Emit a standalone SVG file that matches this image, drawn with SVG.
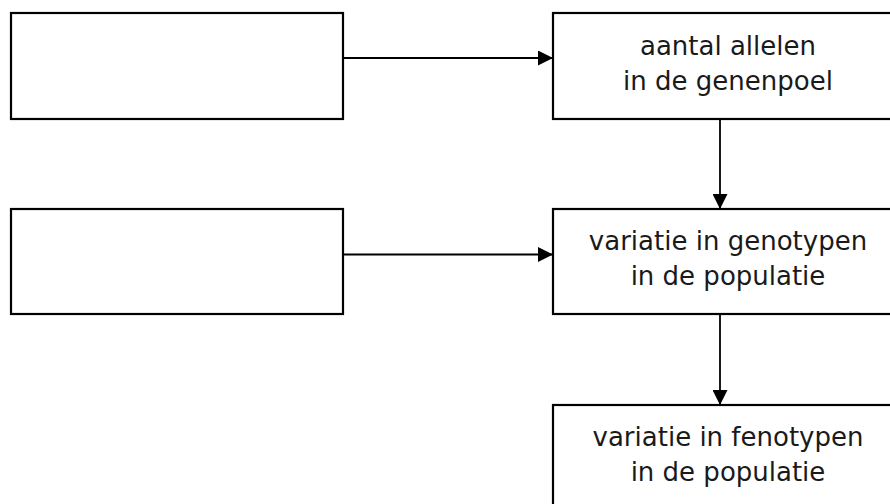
<svg xmlns="http://www.w3.org/2000/svg" width="890" height="504" viewBox="0 0 890 504">
  <style>
    .box { fill: #ffffff; stroke: #000000; stroke-width: 2.2; }
    .edge { fill: none; stroke: #000000; stroke-width: 1.8; }
    .label { font-family: "DejaVu Sans", "Liberation Sans", sans-serif; font-size: 26px; fill: #1a1a1a; text-anchor: middle; }
  </style>
  <defs>
    <marker id="arrow" viewBox="0 0 15 15" markerUnits="userSpaceOnUse" markerWidth="15" markerHeight="15" refX="15" refY="7.5" orient="auto">
      <path d="M0,0 L15,7.5 L0,15 Z" fill="#000000"/>
    </marker>
  </defs>

  <rect width="890" height="504" fill="#ffffff"/>

  <g id="connectors">
    <line class="edge" x1="343" y1="58" x2="553" y2="58" marker-end="url(#arrow)"/>
    <line class="edge" x1="343" y1="254.5" x2="553" y2="254.5" marker-end="url(#arrow)"/>
    <line class="edge" x1="720" y1="119" x2="720" y2="209" marker-end="url(#arrow)"/>
    <line class="edge" x1="720" y1="314" x2="720" y2="405" marker-end="url(#arrow)"/>
  </g>

  <g id="input-1">
    <rect class="box" x="11" y="13" width="332" height="106"/>
  </g>

  <g id="input-2">
    <rect class="box" x="11" y="209" width="332" height="105"/>
  </g>

  <g id="allelen">
    <rect class="box" x="553" y="13" width="350" height="106"/>
    <text class="label" x="728" y="55">aantal allelen</text>
    <text class="label" x="728" y="90">in de genenpoel</text>
  </g>

  <g id="genotypen">
    <rect class="box" x="553" y="209" width="350" height="105"/>
    <text class="label" x="728" y="250">variatie in genotypen</text>
    <text class="label" x="728" y="285">in de populatie</text>
  </g>

  <g id="fenotypen">
    <rect class="box" x="553" y="405" width="350" height="120"/>
    <text class="label" x="728" y="446">variatie in fenotypen</text>
    <text class="label" x="728" y="481">in de populatie</text>
  </g>
</svg>
